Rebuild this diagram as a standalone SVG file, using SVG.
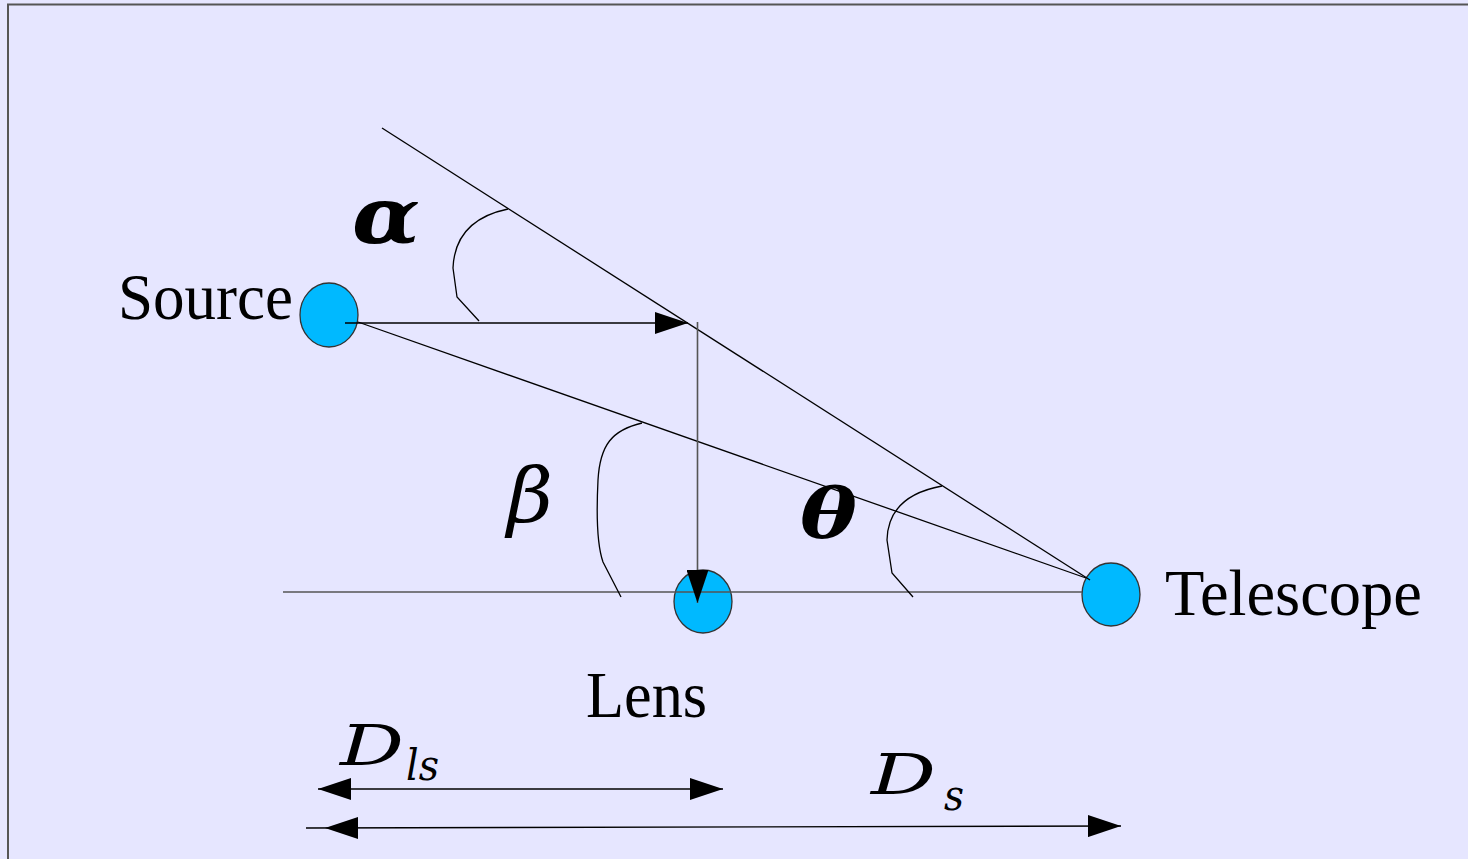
<svg xmlns="http://www.w3.org/2000/svg" width="1468" height="859" viewBox="0 0 1468 859">
<defs>
<style>
.ln{stroke:#000;stroke-width:1.3;fill:none}
.gl{stroke:#555;stroke-width:1.6;fill:none}
.arc{stroke:#000;stroke-width:1.3;fill:none}
.node{fill:#00B9FF;stroke:#333;stroke-width:1.3}
.lbl{font-family:"Liberation Serif",serif;font-size:65px;fill:#000}
.gk{font-family:"DejaVu Serif",serif;font-style:italic;fill:#000}
</style>
<marker id="ah" viewBox="0 0 33 22" refX="33" refY="11" markerWidth="33" markerHeight="22" markerUnits="userSpaceOnUse" orient="auto-start-reverse">
<path d="M0,0 L33,11 L0,22 Z" fill="#000"/>
</marker>
</defs>
<rect x="0" y="0" width="1468" height="859" fill="#E6E6FF"/>
<path d="M8,859 L8,4.5 L1468,4.5" stroke="#555" stroke-width="2" fill="none"/>
<g id="source">
<ellipse class="node" cx="329" cy="315" rx="29" ry="32"/>
<text class="lbl" x="118" y="319" textLength="175" lengthAdjust="spacingAndGlyphs">Source</text>
</g>
<g id="lens">
<ellipse class="node" cx="703" cy="601.5" rx="29" ry="31.5"/>
<text class="lbl" x="586" y="717" textLength="121" lengthAdjust="spacingAndGlyphs">Lens</text>
</g>
<g id="telescope">
<ellipse class="node" cx="1111" cy="594.5" rx="29" ry="31.5"/>
<text class="lbl" x="1165" y="615" textLength="257" lengthAdjust="spacingAndGlyphs">Telescope</text>
</g>
<g id="connectors">
<line class="ln" x1="382" y1="128" x2="1090" y2="580"/>
<line class="ln" x1="358" y1="322" x2="1086" y2="578"/>
<line class="gl" x1="283" y1="592" x2="1082" y2="592"/>
<line class="ln" x1="345" y1="323" x2="688" y2="323" marker-end="url(#ah)"/>
<line class="gl" x1="697.5" y1="322" x2="697.5" y2="603" marker-end="url(#ah)"/>
<path class="arc" d="M508,209 Q455,220 453,268 L457,297 L479,321"/>
<path class="arc" d="M642,423 C612,430 600,445 598,480 C596,520 597,545 603,562 L621,597"/>
<path class="arc" d="M942,486 Q888,496 887,540 L892,573 L913,597"/>
<line class="ln" x1="318" y1="789" x2="723" y2="789" marker-start="url(#ah)" marker-end="url(#ah)"/>
<line class="ln" x1="306" y1="828" x2="1121" y2="826" marker-end="url(#ah)"/>
<path d="M325,828 L358,817 L358,839 Z" fill="#000"/>
</g>
<g id="labels">
<text class="gk" x="352" y="243" font-size="78" font-weight="bold" textLength="68" lengthAdjust="spacingAndGlyphs">α</text>
<text class="gk" x="507" y="522" font-size="76" textLength="46" lengthAdjust="spacingAndGlyphs">β</text>
<text class="gk" x="800" y="538" font-size="70" font-weight="bold" textLength="57" lengthAdjust="spacingAndGlyphs">θ</text>
<text class="gk" x="340" y="765" font-size="56" textLength="64" lengthAdjust="spacingAndGlyphs">D</text>
<text class="gk" x="406" y="780" font-size="42" textLength="33" lengthAdjust="spacingAndGlyphs">ls</text>
<text class="gk" x="871" y="794" font-size="56" textLength="65" lengthAdjust="spacingAndGlyphs">D</text>
<text class="gk" x="944" y="810" font-size="42" textLength="20" lengthAdjust="spacingAndGlyphs">s</text>
</g>
</svg>
